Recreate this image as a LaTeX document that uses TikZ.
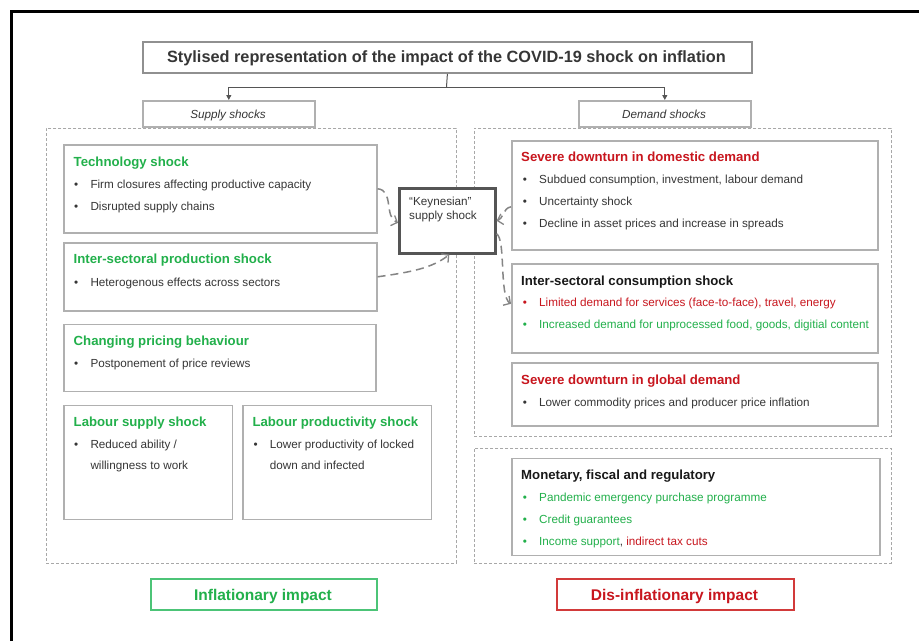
\documentclass[tikz,border=0pt]{standalone}
\usepackage{fontspec}
\setmainfont{Liberation Sans}
\usetikzlibrary{arrows.meta}
\definecolor{txt}{HTML}{363636}
\definecolor{grn}{HTML}{22B04B}
\definecolor{rd}{HTML}{C8161E}
\definecolor{gbord}{HTML}{4CC477}
\definecolor{rbord}{HTML}{D23A3A}
\definecolor{boxg}{HTML}{B0B0B0}
\definecolor{titg}{HTML}{909090}
\definecolor{dashg}{HTML}{A8A8A8}
\definecolor{conng}{HTML}{858585}
\definecolor{keyg}{HTML}{555555}
\tikzset{
  box/.style={draw=boxg, line width=1.6pt, anchor=north west, inner sep=0pt, fill=white},
  cont/.style={draw=dashg, dash pattern=on 3pt off 2pt, line width=0.9pt, anchor=north west, inner sep=0pt},
  hd/.style={anchor=base west, inner sep=0pt, font=\fontsize{13.2}{15}\selectfont\bfseries},
  tx/.style={anchor=base west, inner sep=0pt, font=\fontsize{11.7}{14}\selectfont, text=txt},
  conn/.style={draw=conng, line width=1.5pt, dash pattern=on 8pt off 5pt, -{Straight Barb[length=5pt,width=11pt,line width=1.3pt]}},
  topln/.style={draw=keyg, line width=1pt},
  toparr/.style={draw=keyg, line width=1pt, -{Triangle[length=5pt,width=5pt]}},
}
\newcommand\bitem[5]{%
  \node[tx,text=#4] (#1b) at (#2,#3) {•};
  \node[tx,text=#4,xshift=16.3pt] (#1) at (#2,#3) {#5};}
\begin{document}
\begin{tikzpicture}[x=1pt,y=-1pt]
\useasboundingbox (0,0) rectangle (919,641);
\fill[white] (0,0) rectangle (919,641);
% frame
\draw[line width=3pt, black] (11,641) -- (11,11) -- (919,11);

% containers
\node[cont, minimum width=410pt, minimum height=435pt] (lc) at (46,128) {};
\node[cont, minimum width=417pt, minimum height=308pt] (rc) at (474,128) {};
\node[cont, minimum width=417pt, minimum height=115pt] (pc) at (474,448) {};

% title
\node[box, draw=titg, line width=1.8pt, minimum width=609pt, minimum height=31pt] (title) at (142,41) {};
\node[anchor=base, inner sep=0pt, text=txt, font=\fontsize{16.3}{18}\selectfont\bfseries] (titleT) at (446.5,62.5) {Stylised representation of the impact of the COVID-19 shock on inflation};

\node[box, minimum width=172pt, minimum height=26pt] (sup) at (142,100) {};
\node[anchor=base, inner sep=0pt, text=txt, font=\fontsize{11.7}{14}\selectfont\itshape] (supT) at (228,118.5) {Supply shocks};
\node[box, minimum width=172pt, minimum height=26pt] (dem) at (578,100) {};
\node[anchor=base, inner sep=0pt, text=txt, font=\fontsize{11.7}{14}\selectfont\itshape] (demT) at (664,118.5) {Demand shocks};

\coordinate (j) at (446.5,87);
\draw[topln] (title.south) -- (j);
\draw[toparr] (j) -| (sup.north);
\draw[toparr] (j) -| (dem.north);

% supply side boxes
\node[box, minimum width=313pt, minimum height=88pt] (tech) at (63,144) {};
\node[hd, text=grn] (techT) at (73.5,166.2) {Technology shock};
\bitem{tech1}{74}{188}{txt}{Firm closures affecting productive capacity}
\bitem{tech2}{74}{210}{txt}{Disrupted supply chains}

\node[box, minimum width=313pt, minimum height=68pt] (prod) at (63,242) {};
\node[hd, text=grn] (prodT) at (73.5,263.8) {Inter-sectoral production shock};
\bitem{prod1}{74}{286.3}{txt}{Heterogenous effects across sectors}

\node[box, minimum width=312pt, minimum height=67pt] (price) at (63,323.5) {};
\node[hd, text=grn] (priceT) at (73.5,345.2) {Changing pricing behaviour};
\bitem{price1}{74}{367.3}{txt}{Postponement of price reviews}

\node[box, minimum width=168.5pt, minimum height=114pt] (labs) at (63,404.5) {};
\node[hd, text=grn] (labsT) at (73.5,426.2) {Labour supply shock};
\bitem{labs1}{74}{448}{txt}{Reduced ability /}
\node[tx] (labs2) at (90.3,469.7) {willingness to work};

\node[box, minimum width=188.5pt, minimum height=114pt] (labp) at (242,404.5) {};
\node[hd, text=grn] (labpT) at (252.3,426.2) {Labour productivity shock};
\bitem{labp1}{253.3}{448}{txt}{Lower productivity of locked}
\node[tx] (labp2) at (269.6,469.7) {down and infected};

% demand side boxes
\node[box, minimum width=366pt, minimum height=109pt] (dom) at (511,140) {};
\node[hd, text=rd] (domT) at (521,161.2) {Severe downturn in domestic demand};
\bitem{dom1}{522.7}{183.3}{txt}{Subdued consumption, investment, labour demand}
\bitem{dom2}{522.7}{205.7}{txt}{Uncertainty shock}
\bitem{dom3}{522.7}{227.7}{txt}{Decline in asset prices and increase in spreads}

\node[box, minimum width=366pt, minimum height=89pt] (cons) at (511,263) {};
\node[hd, text=black!90] (consT) at (521,285.2) {Inter-sectoral consumption shock};
\bitem{cons1}{522.7}{306.7}{rd}{Limited demand for services (face-to-face), travel, energy}
\bitem{cons2}{522.7}{328.3}{grn}{Increased demand for unprocessed food, goods, digitial content}

\node[box, minimum width=366pt, minimum height=63pt] (glob) at (511,362) {};
\node[hd, text=rd] (globT) at (521,384.5) {Severe downturn in global demand};
\bitem{glob1}{522.7}{406.3}{txt}{Lower commodity prices and producer price inflation}

\node[box, minimum width=368pt, minimum height=97pt] (mon) at (511,457.5) {};
\node[hd, text=black!90] (monT) at (521,479.2) {Monetary, fiscal and regulatory};
\bitem{mon1}{522.7}{501.3}{grn}{Pandemic emergency purchase programme}
\bitem{mon2}{522.7}{523.3}{grn}{Credit guarantees}
\bitem{mon3}{522.7}{545}{grn}{Income support{\color{txt},} \textcolor{rd}{indirect tax cuts}}

% Keynesian box
\node[box, draw=keyg, line width=2.6pt, minimum width=96pt, minimum height=65pt] (keyn) at (398,187) {};
\node[tx] (keynT1) at (409,205.7) {“Keynesian”};
\node[tx] (keynT2) at (409,219) {supply shock};

% connectors
\draw[conn] (tech.east) .. controls (394,190) and (384,217) .. ([yshift=-2pt]keyn.west);
\draw[conn] (prod.east) .. controls (412,272) and (432,268) .. ([xshift=2pt]keyn.south);
\draw[conn] ([yshift=-11.5pt]dom.west) .. controls (503,208) and (503,219) .. (keyn.east);
\draw[conn] ([yshift=-13pt]keyn.east) .. controls (506,240) and (499,296) .. ([yshift=4.5pt]cons.west);

% impact boxes
\node[box, draw=gbord, line width=1.5pt, minimum width=226pt, minimum height=31pt] (infl) at (150,578) {};
\node[anchor=base, inner sep=0pt, text=grn, font=\fontsize{15.5}{18}\selectfont\bfseries] (inflT) at (263,600.7) {Inflationary impact};
\node[box, draw=rbord, line width=1.5pt, minimum width=237pt, minimum height=31pt] (dinf) at (556,578) {};
\node[anchor=base, inner sep=0pt, text=rd, font=\fontsize{15.5}{18}\selectfont\bfseries] (dinfT) at (674.5,600.7) {Dis-inflationary impact};
\end{tikzpicture}
\end{document}
